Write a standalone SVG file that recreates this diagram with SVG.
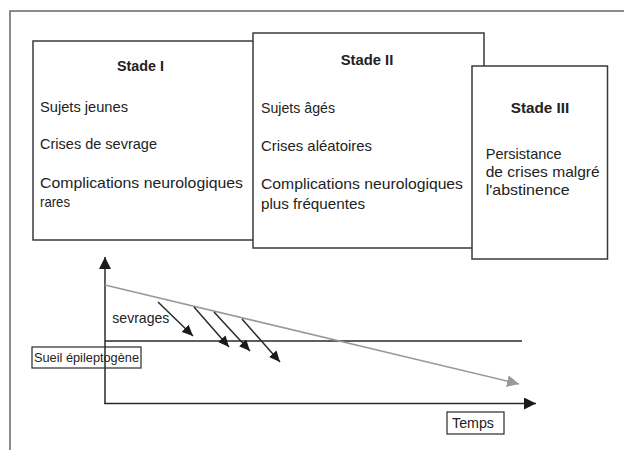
<svg xmlns="http://www.w3.org/2000/svg" width="624" height="450" viewBox="0 0 624 450">
<style>
.box{fill:#fff;stroke:#3a3a3a;stroke-width:1.5}
.t{font-family:"Liberation Sans",Arial,sans-serif;font-size:15px;fill:#222}
.b{font-weight:bold;text-anchor:middle}
.s{font-size:13.5px}
.ln{stroke:#2a2a2a;stroke-width:1.5;fill:none}
.gl{stroke:#999;stroke-width:1.5;fill:none}
</style>
<defs>
<marker id="ah" markerUnits="userSpaceOnUse" markerWidth="13" markerHeight="12" refX="12" refY="6" orient="auto">
<path d="M0,0 L12,6 L0,12 z" fill="#1a1a1a"/>
</marker>
<marker id="ahs" markerUnits="userSpaceOnUse" markerWidth="12" markerHeight="10" refX="11" refY="5" orient="auto">
<path d="M0,0 L11,5 L0,10 z" fill="#1a1a1a"/>
</marker>
<marker id="ahg" markerUnits="userSpaceOnUse" markerWidth="13" markerHeight="12" refX="12" refY="6" orient="auto">
<path d="M0,0 L12,6 L0,12 z" fill="#999"/>
</marker>
</defs>
<g id="frame">
<path d="M10,450 V11 H624" fill="none" stroke="#666" stroke-width="1.5"/>
</g>
<g id="stade1">
<rect class="box" x="33" y="41" width="222" height="199"/>
<text class="t b" x="140.5" y="70.5" textLength="47" lengthAdjust="spacingAndGlyphs">Stade I</text>
<text class="t" x="40" y="111.5" textLength="88" lengthAdjust="spacingAndGlyphs">Sujets jeunes</text>
<text class="t" x="40" y="148.5" textLength="117" lengthAdjust="spacingAndGlyphs">Crises de sevrage</text>
<text class="t" x="40" y="187.5" textLength="203" lengthAdjust="spacingAndGlyphs">Complications neurologiques</text>
<text class="t" x="40" y="206.5" textLength="30" lengthAdjust="spacingAndGlyphs">rares</text>
</g>
<g id="stade2">
<rect class="box" x="253" y="33" width="231" height="215"/>
<text class="t b" x="367" y="65" textLength="52.6" lengthAdjust="spacingAndGlyphs">Stade II</text>
<text class="t" x="261" y="112.5" textLength="74" lengthAdjust="spacingAndGlyphs">Sujets âgés</text>
<text class="t" x="261" y="150.5" textLength="111" lengthAdjust="spacingAndGlyphs">Crises aléatoires</text>
<text class="t" x="261" y="189.3" textLength="202" lengthAdjust="spacingAndGlyphs">Complications neurologiques</text>
<text class="t" x="261" y="208.5" textLength="104" lengthAdjust="spacingAndGlyphs">plus fréquentes</text>
</g>
<g id="stade3">
<rect class="box" x="472" y="66" width="135.5" height="193"/>
<text class="t b" x="540" y="113.3" textLength="58.6" lengthAdjust="spacingAndGlyphs">Stade III</text>
<text class="t" x="485.7" y="159" textLength="76" lengthAdjust="spacingAndGlyphs">Persistance</text>
<text class="t" x="485.7" y="176.7" textLength="114" lengthAdjust="spacingAndGlyphs">de crises malgré</text>
<text class="t" x="485.7" y="195" textLength="84" lengthAdjust="spacingAndGlyphs">l'abstinence</text>
</g>
<g id="connectors">
<line class="ln" x1="105" y1="404" x2="105" y2="257" marker-end="url(#ah)"/>
<line class="ln" x1="104.3" y1="403.5" x2="536" y2="403.5" marker-end="url(#ah)"/>
<line class="ln" x1="105" y1="341" x2="522" y2="341"/>
<line class="gl" x1="105" y1="285" x2="519" y2="384" marker-end="url(#ahg)"/>
<line class="ln" stroke-width="1.2" x1="158" y1="302" x2="193" y2="336" marker-end="url(#ahs)"/>
<line class="ln" stroke-width="1.2" x1="194" y1="307" x2="229" y2="347" marker-end="url(#ahs)"/>
<line class="ln" stroke-width="1.2" x1="214" y1="312" x2="250" y2="351" marker-end="url(#ahs)"/>
<line class="ln" stroke-width="1.2" x1="242" y1="319" x2="280" y2="362" marker-end="url(#ahs)"/>
</g>
<g id="sevrages">
<text class="t" x="112.3" y="323.3" textLength="57" lengthAdjust="spacingAndGlyphs">sevrages</text>
</g>
<g id="seuil">
<rect x="32" y="347" width="109" height="21" fill="none" stroke="#2a2a2a" stroke-width="1.2"/>
<text class="t s" x="34" y="362.3" textLength="105" lengthAdjust="spacingAndGlyphs">Sueil épileptogène</text>
</g>
<g id="temps">
<rect x="447" y="412" width="57" height="22" fill="none" stroke="#2a2a2a" stroke-width="1.2"/>
<text class="t" x="452" y="427.5" textLength="42" lengthAdjust="spacingAndGlyphs">Temps</text>
</g>
</svg>
